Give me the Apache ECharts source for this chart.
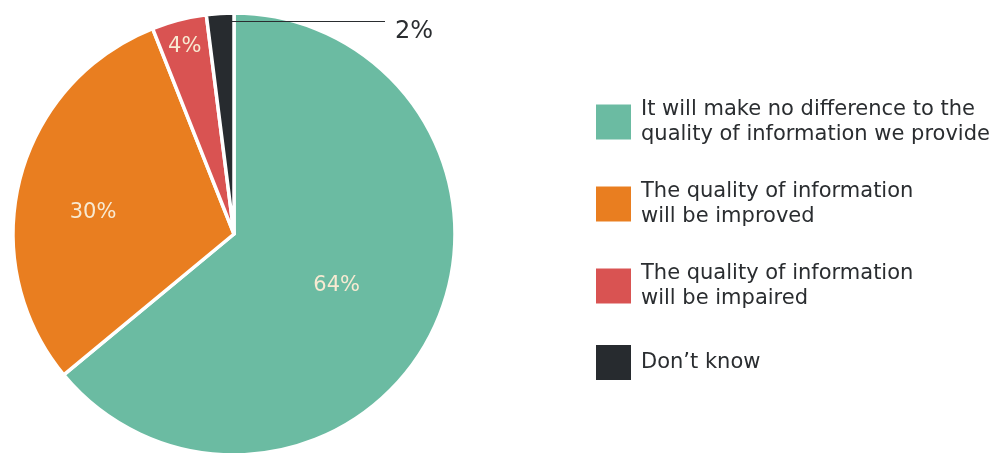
<!DOCTYPE html>
<html>
<head>
<meta charset="utf-8">
<script src="https://cdn.jsdelivr.net/npm/echarts@6/dist/echarts.min.js"></script>
<style>
  html, body { margin: 0; padding: 0; background: #fff; }
  #chart { width: 993px; height: 453px; }
</style>
</head>
<body>
<div id="chart"></div>
<script>
// Survey responses: expected effect on the quality of information provided
const categories = [
  'It will make no difference to the\nquality of information we provide',
  'The quality of information\nwill be improved',
  'The quality of information\nwill be impaired',
  'Don\u2019t know'
];
const shares = [64, 30, 4, 2];
const colors = ['#6bbba2', '#e97e20', '#d95352', '#272b2f'];

// Per-slice nudges of the percentage labels
const labelShift = [[0, 3], [-31, 7], [-21, -78], [0, 0]];

const FONT = '"DejaVu Sans", "Open Sans", sans-serif';
const INK = '#2a2d30';

const chart = echarts.init(document.getElementById('chart'), null, { renderer: 'canvas' });

const pieData = categories.map((name, i) => {
  const item = { name, value: shares[i], itemStyle: { color: colors[i] } };
  if (i === 3) {
    item.label = { position: 'outside', color: INK, fontSize: 24 };
  }
  return item;
});

chart.setOption({
  backgroundColor: '#ffffff',
  animation: false,
  legend: {
    orient: 'vertical',
    left: 589,
    top: 92,
    itemWidth: 37,
    itemHeight: 37,
    itemGap: 32,
    icon: 'rect',
    selectedMode: false,
    data: categories,
    textStyle: {
      fontFamily: FONT,
      fontSize: 21,
      lineHeight: 25,
      color: INK,
      padding: [0, 0, 0, 4]
    }
  },
  // leader line for the smallest slice, drawn above the pie
  graphic: [{
    type: 'line',
    z: 100,
    shape: { x1: 232, y1: 21.5, x2: 385, y2: 21.5 },
    style: { stroke: INK, lineWidth: 1 }
  }],
  series: [{
    type: 'pie',
    center: [234, 234],
    radius: 221,
    startAngle: 90,
    clockwise: true,
    avoidLabelOverlap: false,
    data: pieData,
    itemStyle: { borderColor: '#ffffff', borderWidth: 3.5 },
    label: {
      show: true,
      position: 'inside',
      formatter: '{c}%',
      color: '#f8ead2',
      fontFamily: FONT,
      fontSize: 21
    },
    labelLine: { show: false },
    labelLayout: function (p) {
      if (p.dataIndex === 3) {
        return { x: 395, y: 32, align: 'left', verticalAlign: 'middle' };
      }
      const s = labelShift[p.dataIndex];
      return { dx: s[0], dy: s[1] };
    }
  }]
});
</script>
</body>
</html>
